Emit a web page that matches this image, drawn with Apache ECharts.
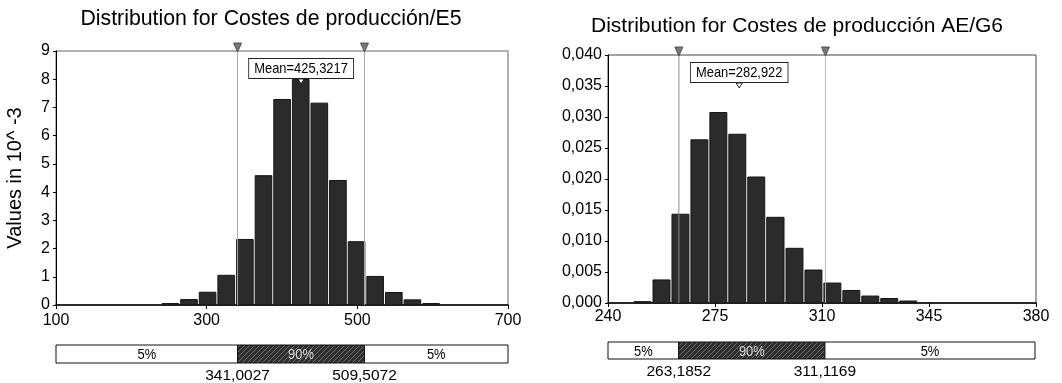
<!DOCTYPE html>
<html><head><meta charset="utf-8">
<script src="https://cdn.jsdelivr.net/npm/echarts@6/dist/echarts.min.js"></script>
<style>html,body{margin:0;padding:0;background:#fff}#c{width:1062px;height:383px}</style>
</head><body><div id="c"></div>
<script>
// ---------- data ----------
const leftTitle = 'Distribution for Costes de producción/E5';
const rightTitle = 'Distribution for Costes de producción AE/G6';
const leftYName = 'Values in 10^ -3';
const leftEdges = [239.5, 264.2, 288.9, 313.6, 338.4, 363.1, 387.8, 412.5, 437.2, 461.9, 486.6, 511.3, 536.0, 560.8, 585.5, 610.2];
const leftValues = [0.07, 0.21, 0.47, 1.07, 2.34, 4.60, 7.30, 8.01, 7.17, 4.43, 2.26, 1.03, 0.46, 0.20, 0.07];
const leftXRange = [100, 700];
const leftXStep = 200;
const leftYRange = [0, 9];
const leftYStep = 1;
const leftMean = 425.3217;
const leftP5 = 341.0027;
const leftP95 = 509.5072;

const rightEdges = [248.2, 254.4, 260.6, 266.8, 273.0, 279.2, 285.4, 291.6, 297.9, 304.1, 310.3, 316.5, 322.7, 328.9, 335.1, 341.3];
const rightValues = [0.0003, 0.0038, 0.0144, 0.0264, 0.0308, 0.0273, 0.0204, 0.0139, 0.0089, 0.0054, 0.0033, 0.0021, 0.0012, 0.0008, 0.0004];
const rightXRange = [240, 380];
const rightXStep = 35;
const rightYRange = [0, 0.04];
const rightYStep = 0.005;
const rightMean = 282.922;
const rightP5 = 263.1852;
const rightP95 = 311.1169;

const pctLabels = ['5%', '90%', '5%'];

// ---------- rendering ----------
const FONT = '"Liberation Sans", Arial, sans-serif';
function comma(v) { return String(v).replace('.', ','); }

// hatch pattern
const hatch = document.createElement('canvas');
hatch.width = 5; hatch.height = 5;
(function () {
  const g = hatch.getContext('2d');
  g.fillStyle = '#2e2e2e'; g.fillRect(0, 0, 5, 5);
  g.strokeStyle = '#707070'; g.lineWidth = 1;
  g.beginPath();
  g.moveTo(-1, 6); g.lineTo(6, -1);
  g.stroke();
})();

function histSeries(i, edges, values) {
  return {
    type: 'custom', xAxisIndex: i, yAxisIndex: i, silent: true, z: 2,
    data: values.map((v, k) => [edges[k], edges[k + 1], v]),
    encode: { x: [0, 1], y: 2 },
    renderItem(params, api) {
      const a = api.coord([api.value(0), api.value(2)]);
      const b = api.coord([api.value(1), 0]);
      return {
        type: 'rect',
        shape: { x: a[0] + 1, y: a[1] + 0.5, width: b[0] - a[0] - 2, height: b[1] - a[1] - 0.5 },
        style: { fill: '#2b2b2b', stroke: '#151515', lineWidth: 1 }
      };
    }
  };
}

function pctLineSeries(i, p5, p95, yMax, colors) {
  return {
    type: 'custom', xAxisIndex: i, yAxisIndex: i, silent: true, clip: false, z: 5,
    data: [[p5], [p95]],
    renderItem(params, api) {
      const x = api.value(0);
      const t = api.coord([x, yMax]);
      const b = api.coord([x, 0]);
      return {
        type: 'group', children: [
          { type: 'line', shape: { x1: t[0], y1: t[1], x2: b[0], y2: b[1] }, style: { stroke: colors[params.dataIndex], lineWidth: 1 } },
          { type: 'polygon', shape: { points: [[t[0] - 4, t[1] - 8], [t[0] + 4, t[1] - 8], [t[0], t[1] + 1]] }, style: { fill: '#777', stroke: '#555', lineWidth: 1 } }
        ]
      };
    }
  };
}

function meanSeries(i, mean, yMax, gap) {
  return {
    type: 'custom', xAxisIndex: i, yAxisIndex: i, silent: true, clip: false, z: 6,
    data: [[mean, yMax]],
    renderItem(params, api) {
      const p = api.coord([api.value(0), api.value(1)]);
      const y0 = p[1] + gap;
      return {
        type: 'group', children: [
          { type: 'text', x: p[0], y: y0, scaleX: 0.86,
            style: { text: 'Mean=' + comma(api.value(0)), x: 0, y: 0, align: 'center', verticalAlign: 'top',
              font: '15px ' + FONT, fill: '#000', backgroundColor: '#fff', borderColor: '#222', borderWidth: 1, padding: [2, 6, 2, 6] } },
          { type: 'polygon', shape: { points: [[p[0] - 3, y0 + 20], [p[0] + 3, y0 + 20], [p[0], y0 + 25]] }, style: { fill: '#fff', stroke: '#222', lineWidth: 1 } }
        ]
      };
    }
  };
}

function pctBarSeries(i, xr, p5, p95) {
  return {
    type: 'custom', xAxisIndex: i, yAxisIndex: i, silent: true, clip: false,
    data: [[xr[0], p5, 0], [p5, p95, 1], [p95, xr[1], 2]],
    renderItem(params, api) {
      const idx = api.value(2);
      const a = api.coord([api.value(0), 1]);
      const b = api.coord([api.value(1), 0]);
      return {
        type: 'group', children: [
          { type: 'rect', shape: { x: a[0], y: a[1], width: b[0] - a[0], height: b[1] - a[1] },
            style: { fill: idx === 1 ? { image: hatch, repeat: 'repeat' } : '#fff', stroke: '#111', lineWidth: 1 } },
          { type: 'text', x: (a[0] + b[0]) / 2, y: (a[1] + b[1]) / 2 + 1, scaleX: 0.86,
            style: { text: pctLabels[idx], x: 0, y: 0, align: 'center', verticalAlign: 'middle',
              font: '15px ' + FONT, fill: idx === 1 ? '#d8d8d8' : '#000' } }
        ]
      };
    }
  };
}

function pctValueSeries(i, p5, p95) {
  return {
    type: 'custom', xAxisIndex: i, yAxisIndex: i, silent: true, clip: false,
    data: [[p5], [p95]],
    renderItem(params, api) {
      const b = api.coord([api.value(0), 0]);
      return { type: 'text', style: { text: comma(api.value(0)), x: b[0], y: b[1] + 13, align: 'center', verticalAlign: 'middle',
        font: '15.5px ' + FONT, fill: '#000' } };
    }
  };
}

const axisLabel = { color: '#000', fontSize: 16, fontFamily: FONT };
const hiddenAxis = { show: false };

const option = {
  animation: false,
  backgroundColor: '#fff',
  title: [
    { text: leftTitle, left: 266, top: 4, textAlign: 'center', textStyle: { fontSize: 21.3, fontWeight: 'normal', color: '#000', fontFamily: FONT } },
    { text: rightTitle, left: 792, top: 11, textAlign: 'center', textStyle: { fontSize: 21, fontWeight: 'normal', color: '#000', fontFamily: FONT } }
  ],
  grid: [
    { left: 56, top: 51, width: 452, height: 254, show: true, borderColor: '#666', borderWidth: 1 },
    { left: 56, top: 345, width: 452, height: 18 },
    { left: 608, top: 55, width: 428, height: 248, show: true, borderColor: '#444', borderWidth: 1 },
    { left: 608, top: 342, width: 427, height: 17 }
  ],
  xAxis: [
    { type: 'value', gridIndex: 0, min: leftXRange[0], max: leftXRange[1], interval: leftXStep,
      axisLine: { lineStyle: { color: '#000', width: 1.5 } }, axisTick: { length: 4, lineStyle: { color: '#000' } },
      splitLine: { show: false }, axisLabel: Object.assign({ margin: 8 }, axisLabel) },
    Object.assign({ type: 'value', gridIndex: 1, min: leftXRange[0], max: leftXRange[1] }, hiddenAxis),
    { type: 'value', gridIndex: 2, min: rightXRange[0], max: rightXRange[1], interval: rightXStep,
      axisLine: { lineStyle: { color: '#000', width: 1.5 } }, axisTick: { length: 4, lineStyle: { color: '#000' } },
      splitLine: { show: false }, axisLabel: Object.assign({ margin: 6 }, axisLabel) },
    Object.assign({ type: 'value', gridIndex: 3, min: rightXRange[0], max: rightXRange[1] }, hiddenAxis)
  ],
  yAxis: [
    { type: 'value', gridIndex: 0, min: leftYRange[0], max: leftYRange[1], interval: leftYStep,
      name: leftYName, nameLocation: 'middle', nameRotate: 90, nameGap: 31,
      nameTextStyle: { fontSize: 20, color: '#000', fontFamily: FONT },
      axisLine: { show: true, lineStyle: { color: '#000', width: 1 } }, axisTick: { show: true, length: 3, lineStyle: { color: '#000' } },
      splitLine: { show: false }, axisLabel: Object.assign({ margin: 6 }, axisLabel) },
    Object.assign({ type: 'value', gridIndex: 1, min: 0, max: 1 }, hiddenAxis),
    { type: 'value', gridIndex: 2, min: rightYRange[0], max: rightYRange[1], interval: rightYStep,
      axisLine: { show: true, lineStyle: { color: '#000', width: 1 } }, axisTick: { show: true, length: 3, lineStyle: { color: '#000' } },
      splitLine: { show: false },
      axisLabel: Object.assign({ margin: 6, formatter: v => v.toFixed(3).replace('.', ',') }, axisLabel) },
    Object.assign({ type: 'value', gridIndex: 3, min: 0, max: 1 }, hiddenAxis)
  ],
  series: [
    histSeries(0, leftEdges, leftValues),
    pctLineSeries(0, leftP5, leftP95, leftYRange[1], ['#a8a8a8', '#a8a8a8']),
    meanSeries(0, leftMean, leftYRange[1], 8),
    pctBarSeries(1, leftXRange, leftP5, leftP95),
    pctValueSeries(1, leftP5, leftP95),
    histSeries(2, rightEdges, rightValues),
    pctLineSeries(2, rightP5, rightP95, rightYRange[1], ['#8a8a8a', '#bbbbbb']),
    meanSeries(2, rightMean, rightYRange[1], 8),
    pctBarSeries(3, rightXRange, rightP5, rightP95),
    pctValueSeries(3, rightP5, rightP95)
  ]
};
const chart = echarts.init(document.getElementById('c'));
chart.setOption(option);
</script>
</body></html>
